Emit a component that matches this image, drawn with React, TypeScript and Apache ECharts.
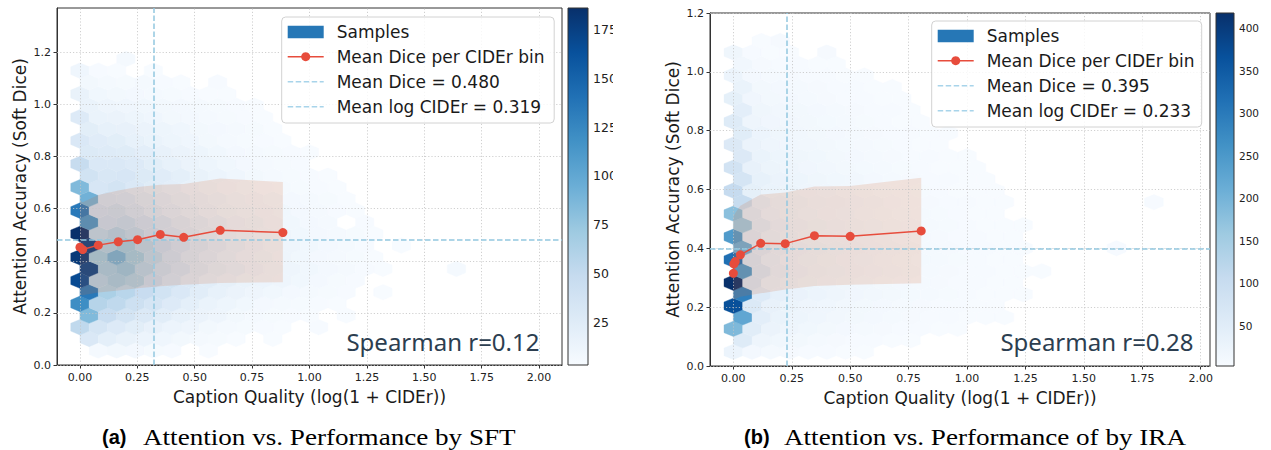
import React, { useEffect, useRef } from "react";
import * as echarts from "echarts";

// ---------- shared ----------
const BLUES = ["#f7fbff", "#deebf7", "#c6dbef", "#9ecae1", "#6baed6", "#4292c6", "#2171b5", "#08519c", "#08306b"];
const HEX_SX = 0.08;
const xTicks = [0, 0.25, 0.5, 0.75, 1.0, 1.25, 1.5, 1.75, 2.0];
const yTicks = [0, 0.2, 0.4, 0.6, 0.8, 1.0, 1.2];
const xAxisName = "Caption Quality (log(1 + CIDEr))";
const yAxisName = "Attention Accuracy (Soft Dice)";

// ---------- (a) SFT ----------
const sftHexY0 = 0.0555;
const sftHexSy = 0.0895;
// half-row k: y = y0 + k*sy/2 ; cells at x = (k%2)*sx/2 + i*sx
const sftHexRows: number[][] = [
  [0, 6, 8, 7, 5, 4, 0, 3],
  [30, 20, 16, 13, 10, 8, 6, 5, 3, 0, 3],
  [52, 34, 27, 22, 17, 13, 11, 8, 6, 5, 4, 3, 0, 4],
  [85, 46, 36, 29, 23, 18, 14, 11, 8, 6, 5, 4, 3, 0, 3],
  [120, 58, 52, 42, 34, 27, 20, 15, 12, 9, 7, 6, 5, 4, 3],
  [135, 64, 56, 47, 38, 30, 23, 18, 14, 11, 9, 7, 6, 5, 4, 0, 3],
  [168, 62, 70, 65, 50, 38, 29, 23, 19, 15, 13, 11, 9, 7, 5, 4],
  [172, 70, 76, 60, 48, 40, 31, 25, 21, 17, 13, 11, 9, 7, 6, 4, 3, 0, 0, 0, 6],
  [180, 72, 92, 72, 56, 43, 33, 27, 21, 17, 15, 11, 9, 7, 6, 5, 3],
  [175, 65, 72, 58, 50, 41, 33, 27, 21, 17, 13, 11, 9, 7, 6, 4, 0, 3],
  [186, 56, 62, 55, 46, 37, 31, 25, 19, 16, 13, 11, 9, 7, 6, 5, 3],
  [115, 50, 52, 44, 38, 31, 26, 21, 17, 15, 11, 9, 7, 6, 0, 4],
  [135, 46, 48, 40, 33, 27, 23, 19, 15, 13, 11, 9, 7, 6, 4, 3],
  [92, 40, 38, 32, 27, 23, 19, 16, 13, 11, 9, 7, 6, 5, 3],
  [85, 33, 36, 30, 25, 21, 17, 14, 11, 9, 7, 6, 5, 4, 3],
  [38, 32, 33, 28, 24, 20, 16, 13, 10, 8, 6, 5, 4, 3],
  [48, 30, 30, 27, 22, 18, 14, 12, 9, 7, 6, 5, 4],
  [28, 26, 25, 21, 17, 14, 12, 9, 7, 6, 5, 4, 3],
  [30, 24, 22, 18, 15, 12, 10, 8, 6, 5, 4, 3],
  [22, 18, 17, 14, 12, 10, 8, 7, 6, 5, 3],
  [27, 15, 14, 12, 10, 8, 7, 6, 5, 4, 3],
  [15, 11, 10, 9, 8, 7, 6, 5, 4, 3],
  [16, 9, 8, 7, 6, 5, 4, 3, 3],
  [8, 6, 5, 6, 4, 3, 0, 4],
  [10, 4, 3, 0, 3],
  [0, 0, 6],
];
const sftCountMin = 3;
const sftCountMax = 186;
const sftCbTicks = [25, 50, 75, 100, 125, 150, 175];
const sftMeanX = [0.0, 0.012, 0.08, 0.167, 0.251, 0.35, 0.452, 0.611, 0.884];
const sftMeanY = [0.452, 0.443, 0.46, 0.473, 0.481, 0.501, 0.49, 0.517, 0.508];
const sftBandUpper = [0.63, 0.625, 0.652, 0.67, 0.683, 0.692, 0.695, 0.716, 0.702];
const sftBandLower = [0.27, 0.268, 0.278, 0.286, 0.295, 0.302, 0.308, 0.315, 0.318];
const sftMeanDice = 0.48;
const sftMeanLogCider = 0.319;
const sftSpearman = 0.12;

// ---------- (b) IRA ----------
const iraHexY0 = 0.048;
const iraHexSy = 0.0783;
const iraHexRows: number[][] = [
  [25, 12, 10, 8, 6, 5, 4, 3],
  [55, 22, 17, 13, 10, 8, 6, 5, 4, 3],
  [190, 48, 28, 22, 17, 14, 12, 10, 8, 6, 5, 4, 3],
  [225, 44, 30, 24, 19, 16, 14, 12, 10, 8, 6, 5, 4, 3, 3],
  [368, 62, 34, 27, 22, 19, 16, 14, 12, 10, 8, 6, 5, 4, 3],
  [290, 58, 38, 31, 25, 22, 18, 15, 13, 11, 9, 7, 5, 4, 3, 3],
  [418, 75, 40, 32, 27, 24, 20, 17, 14, 12, 10, 8, 6, 5, 4, 3],
  [250, 70, 42, 34, 28, 25, 21, 18, 15, 13, 10, 8, 6, 5, 4, 3, 3],
  [318, 70, 44, 35, 30, 26, 22, 19, 16, 13, 11, 9, 7, 5, 4, 3],
  [210, 62, 42, 34, 29, 25, 22, 18, 15, 13, 10, 8, 6, 5, 4, 3, 0, 0, 0, 0, 6],
  [245, 60, 40, 33, 28, 24, 21, 18, 15, 12, 10, 8, 6, 5, 4, 3],
  [160, 55, 38, 31, 27, 23, 20, 17, 14, 12, 9, 7, 6, 4, 3, 3],
  [178, 55, 36, 30, 25, 22, 19, 16, 13, 11, 9, 7, 5, 4, 3],
  [105, 45, 33, 28, 24, 21, 18, 15, 12, 10, 8, 6, 5, 4, 3, 0, 0, 0, 0, 0, 0, 0, 6],
  [107, 40, 30, 26, 22, 19, 16, 14, 11, 9, 7, 6, 4, 3, 3],
  [75, 36, 28, 24, 20, 17, 15, 12, 10, 8, 6, 5, 4, 3],
  [80, 35, 26, 22, 18, 16, 13, 11, 9, 7, 6, 4, 3, 3],
  [60, 30, 24, 20, 17, 14, 12, 10, 8, 6, 5, 4, 3],
  [60, 28, 22, 18, 15, 13, 11, 9, 7, 5, 4, 3],
  [50, 25, 20, 16, 14, 12, 10, 8, 6, 5, 4, 3],
  [55, 22, 18, 15, 13, 11, 9, 7, 5, 4, 3],
  [45, 20, 16, 14, 12, 10, 8, 6, 5, 3],
  [40, 18, 14, 12, 10, 8, 6, 5, 4, 3],
  [30, 14, 12, 10, 8, 6, 5, 4, 3],
  [25, 12, 10, 8, 6, 5, 4, 3],
  [15, 8, 6, 5, 4, 3],
  [20, 6, 4, 3, 0, 8],
  [0, 4, 8],
];
const iraCountMin = 3;
const iraCountMax = 418;
const iraCbTicks = [50, 100, 150, 200, 250, 300, 350, 400];
const iraMeanX = [0.0, 0.002, 0.008, 0.03, 0.117, 0.222, 0.347, 0.5, 0.804];
const iraMeanY = [0.315, 0.347, 0.355, 0.378, 0.417, 0.416, 0.443, 0.441, 0.459];
const iraBandUpper = [0.5, 0.51, 0.52, 0.545, 0.583, 0.59, 0.61, 0.612, 0.64];
const iraBandLower = [0.22, 0.225, 0.228, 0.235, 0.247, 0.26, 0.272, 0.276, 0.281];
const iraMeanDice = 0.395;
const iraMeanLogCider = 0.233;
const iraSpearman = 0.28;

// ---------- helpers ----------
function hexCells(rows: number[][], y0: number, sy: number) {
  const out: number[][] = [];
  rows.forEach((row, k) => {
    const y = y0 + (k * sy) / 2;
    const xOff = (k % 2) * (HEX_SX / 2);
    row.forEach((c, i) => {
      if (c > 0) out.push([xOff + i * HEX_SX, y, c]);
    });
  });
  return out;
}

function hexRenderer(sy: number) {
  return (_p: any, api: any) => {
    const c = api.coord([api.value(0), api.value(1)]);
    const s = api.size([HEX_SX, sy]);
    const w = s[0] / 2;
    const h = s[1] / 6;
    const col = api.visual("color");
    return {
      type: "polygon",
      shape: {
        points: [
          [c[0] + w, c[1] - h],
          [c[0] + w, c[1] + h],
          [c[0], c[1] + 2 * h],
          [c[0] - w, c[1] + h],
          [c[0] - w, c[1] - h],
          [c[0], c[1] - 2 * h],
        ],
      },
      style: { fill: col, stroke: col, lineWidth: 0.4 },
    };
  };
}

function bandRenderer(xs: number[], up: number[], lo: number[]) {
  return (_p: any, api: any) => {
    const pts: number[][] = [];
    xs.forEach((x, i) => pts.push(api.coord([x, up[i]])));
    for (let i = xs.length - 1; i >= 0; i--) pts.push(api.coord([xs[i], lo[i]]));
    return { type: "polygon", shape: { points: pts }, style: { fill: "rgba(215,105,55,0.17)" } };
  };
}

const FONT = "DejaVu Sans";
const gridLine = { color: "#c4c4c4", width: 0.8, type: [1.2, 2] };
const dashLine = { color: "#93c8e0", width: 1.5, type: [5.5, 2.5] };

function plotXAxis(grid: number, max: number) {
  return {
    gridIndex: grid,
    type: "value",
    min: -0.1,
    max,
    name: xAxisName,
    nameLocation: "middle",
    nameGap: 23,
    nameTextStyle: { fontSize: 17, fontFamily: FONT, color: "#1a1a1a" },
    axisLine: { show: true, onZero: false, lineStyle: { color: "#333", width: 1 } },
    axisTick: { show: true, length: 3.5, customValues: xTicks, lineStyle: { color: "#333" } },
    axisLabel: { customValues: xTicks, formatter: (v: number) => v.toFixed(2), fontSize: 11, fontFamily: FONT, color: "#222", margin: 7 },
    splitLine: { show: false },
  };
}
function plotYAxis(grid: number, max: number) {
  return {
    gridIndex: grid,
    type: "value",
    min: 0,
    max,
    name: yAxisName,
    nameLocation: "middle",
    nameGap: 29,
    nameTextStyle: { fontSize: 17, fontFamily: FONT, color: "#1a1a1a" },
    axisLine: { show: true, onZero: false, lineStyle: { color: "#333", width: 1 } },
    axisTick: { show: true, length: 3.5, customValues: yTicks, lineStyle: { color: "#333" } },
    axisLabel: { customValues: yTicks, formatter: (v: number) => v.toFixed(1), fontSize: 11, fontFamily: FONT, color: "#222", margin: 6 },
    splitLine: { show: false },
  };
}
function cbYAxis(grid: number, min: number, max: number, ticks: number[], fs: number) {
  return {
    gridIndex: grid,
    type: "value",
    min,
    max,
    position: "right",
    axisLine: { show: false },
    axisTick: { show: true, length: 3.5, customValues: ticks, lineStyle: { color: "#333" } },
    axisLabel: { customValues: ticks, fontSize: fs, fontFamily: FONT, color: "#222", margin: 5 },
    splitLine: { show: false },
  };
}

function meanSeries(xi: number, xs: number[], ys: number[], meanDice: number, meanLog: number) {
  return {
    type: "line",
    xAxisIndex: xi,
    yAxisIndex: xi,
    data: xs.map((x, i) => [x, ys[i]]),
    symbol: "circle",
    symbolSize: 9,
    itemStyle: { color: "#e74c3c" },
    lineStyle: { color: "#e74c3c", width: 1.5 },
    z: 5,
    silent: true,
    markLine: {
      silent: true,
      symbol: ["none", "none"],
      label: { show: false },
      animation: false,
      data: [
        ...xTicks.map((v) => ({ xAxis: v, lineStyle: gridLine })),
        ...yTicks.map((v) => ({ yAxis: v, lineStyle: gridLine })),
        { xAxis: meanLog, lineStyle: dashLine },
        { yAxis: meanDice, lineStyle: dashLine },
      ],
    },
  };
}

function legendElements(x0: number, y0: number, w: number, labels: string[]) {
  const els: any[] = [];
  els.push({ type: "rect", z: 50, shape: { x: x0, y: y0, width: w, height: 106, r: 4 }, style: { fill: "rgba(255,255,255,0.82)", stroke: "#d2d2d2", lineWidth: 1 } });
  const hx0 = x0 + 6;
  const hx1 = x0 + 42;
  const rows = [14.7, 39.7, 64.7, 89.7].map((d) => y0 + d);
  els.push({ type: "rect", z: 51, shape: { x: hx0, y: rows[0] - 6, width: 36, height: 12.5 }, style: { fill: "#2677b6" } });
  els.push({ type: "line", z: 51, shape: { x1: hx0, y1: rows[1], x2: hx1, y2: rows[1] }, style: { stroke: "#e74c3c", lineWidth: 1.5 } });
  els.push({ type: "circle", z: 52, shape: { cx: (hx0 + hx1) / 2, cy: rows[1], r: 4.5 }, style: { fill: "#e74c3c" } });
  [rows[2], rows[3]].forEach((r) =>
    els.push({ type: "line", z: 51, shape: { x1: hx0, y1: r, x2: hx1, y2: r }, style: { stroke: "#a8d4ea", lineWidth: 1.4, lineDash: [5.5, 2.5] } })
  );
  labels.forEach((t, i) =>
    els.push({ type: "text", z: 52, x: x0 + 55, y: rows[i], style: { text: t, fontSize: 17, fontFamily: FONT, fill: "#1a1a1a", align: "left", verticalAlign: "middle" } })
  );
  return els;
}

function colorbarRect(x: number, y: number, w: number, h: number) {
  return {
    type: "rect",
    z: 10,
    shape: { x, y, width: w, height: h },
    style: {
      fill: { type: "linear", x: 0, y: 1, x2: 0, y2: 0, colorStops: BLUES.map((c, i) => ({ offset: i / (BLUES.length - 1), color: c })) },
      stroke: "#333",
      lineWidth: 1,
    },
  };
}

export default function App() {
  const ref = useRef<HTMLDivElement>(null);
  useEffect(() => {
    if (!ref.current) return;
    const chart = echarts.init(ref.current, undefined, { renderer: "svg" });
    const sftLegend = ["Samples", "Mean Dice per CIDEr bin", `Mean Dice = ${sftMeanDice.toFixed(3)}`, `Mean log CIDEr = ${sftMeanLogCider.toFixed(3)}`];
    const iraLegend = ["Samples", "Mean Dice per CIDEr bin", `Mean Dice = ${iraMeanDice.toFixed(3)}`, `Mean log CIDEr = ${iraMeanLogCider.toFixed(3)}`];
    const option: any = {
      animation: false,
      backgroundColor: "#ffffff",
      textStyle: { fontFamily: FONT },
      grid: [
        { left: 57, top: 8, width: 505, height: 357, show: true, borderColor: "#333", borderWidth: 1, containLabel: false },
        { left: 568, top: 8, width: 20, height: 357, show: false },
        { left: 710, top: 13, width: 500, height: 353, show: true, borderColor: "#333", borderWidth: 1, containLabel: false },
        { left: 1216, top: 13, width: 18, height: 353, show: false },
      ],
      xAxis: [
        plotXAxis(0, 2.1),
        { gridIndex: 1, type: "value", min: 0, max: 1, show: false },
        plotXAxis(2, 2.04),
        { gridIndex: 3, type: "value", min: 0, max: 1, show: false },
      ],
      yAxis: [
        plotYAxis(0, 1.37),
        cbYAxis(1, sftCountMin, sftCountMax, sftCbTicks, 12.5),
        plotYAxis(2, 1.2),
        cbYAxis(3, iraCountMin, iraCountMax, iraCbTicks, 10.5),
      ],
      visualMap: [
        { type: "continuous", show: false, seriesIndex: 0, dimension: 2, min: sftCountMin, max: sftCountMax, inRange: { color: BLUES } },
        { type: "continuous", show: false, seriesIndex: 3, dimension: 2, min: iraCountMin, max: iraCountMax, inRange: { color: BLUES } },
      ],
      series: [
        { type: "custom", xAxisIndex: 0, yAxisIndex: 0, data: hexCells(sftHexRows, sftHexY0, sftHexSy), renderItem: hexRenderer(sftHexSy), clip: true, z: 1, silent: true },
        { type: "custom", xAxisIndex: 0, yAxisIndex: 0, data: [[0, 0]], renderItem: bandRenderer(sftMeanX, sftBandUpper, sftBandLower), clip: true, z: 2, silent: true },
        meanSeries(0, sftMeanX, sftMeanY, sftMeanDice, sftMeanLogCider),
        { type: "custom", xAxisIndex: 2, yAxisIndex: 2, data: hexCells(iraHexRows, iraHexY0, iraHexSy), renderItem: hexRenderer(iraHexSy), clip: true, z: 1, silent: true },
        { type: "custom", xAxisIndex: 2, yAxisIndex: 2, data: [[0, 0]], renderItem: bandRenderer(iraMeanX, iraBandUpper, iraBandLower), clip: true, z: 2, silent: true },
        meanSeries(2, iraMeanX, iraMeanY, iraMeanDice, iraMeanLogCider),
      ],
      graphic: [
        ...legendElements(281.7, 17, 272.5, sftLegend),
        ...legendElements(931.7, 21, 270, iraLegend),
        colorbarRect(568, 8, 20, 357),
        colorbarRect(1216, 13, 18, 353),
        { type: "text", z: 60, x: 539.5, y: 341, style: { text: `Spearman r=${sftSpearman.toFixed(2)}`, fontSize: 24, fontFamily: "Noto Sans", fill: "#2c3e50", align: "right", verticalAlign: "middle" } },
        { type: "text", z: 60, x: 1193.5, y: 341.5, style: { text: `Spearman r=${iraSpearman.toFixed(2)}`, fontSize: 24, fontFamily: "Noto Sans", fill: "#2c3e50", align: "right", verticalAlign: "middle" } },
        { type: "rect", z: 200, shape: { x: 613, y: 0, width: 27, height: 410 }, style: { fill: "#ffffff" } },
        { type: "text", z: 60, x: 102, y: 437, style: { text: "(a)", fontSize: 20, fontWeight: "bold", fontFamily: "Liberation Sans", fill: "#000", align: "left", verticalAlign: "middle" } },
        { type: "text", z: 60, x: 143, y: 437, scaleX: 1.13, style: { text: "Attention vs. Performance by SFT", fontSize: 24, fontFamily: "Liberation Serif", fill: "#000", align: "left", verticalAlign: "middle" } },
        { type: "text", z: 60, x: 744, y: 437, style: { text: "(b)", fontSize: 20, fontWeight: "bold", fontFamily: "Liberation Sans", fill: "#000", align: "left", verticalAlign: "middle" } },
        { type: "text", z: 60, x: 784, y: 437, scaleX: 1.13, style: { text: "Attention vs. Performance of by IRA", fontSize: 24, fontFamily: "Liberation Serif", fill: "#000", align: "left", verticalAlign: "middle" } },
      ],
    };
    chart.setOption(option);
    return () => chart.dispose();
  }, []);
  return <div ref={ref} style={{ position: "absolute", left: 0, top: 0, width: 1271, height: 450, background: "#fff" }} />;
}
